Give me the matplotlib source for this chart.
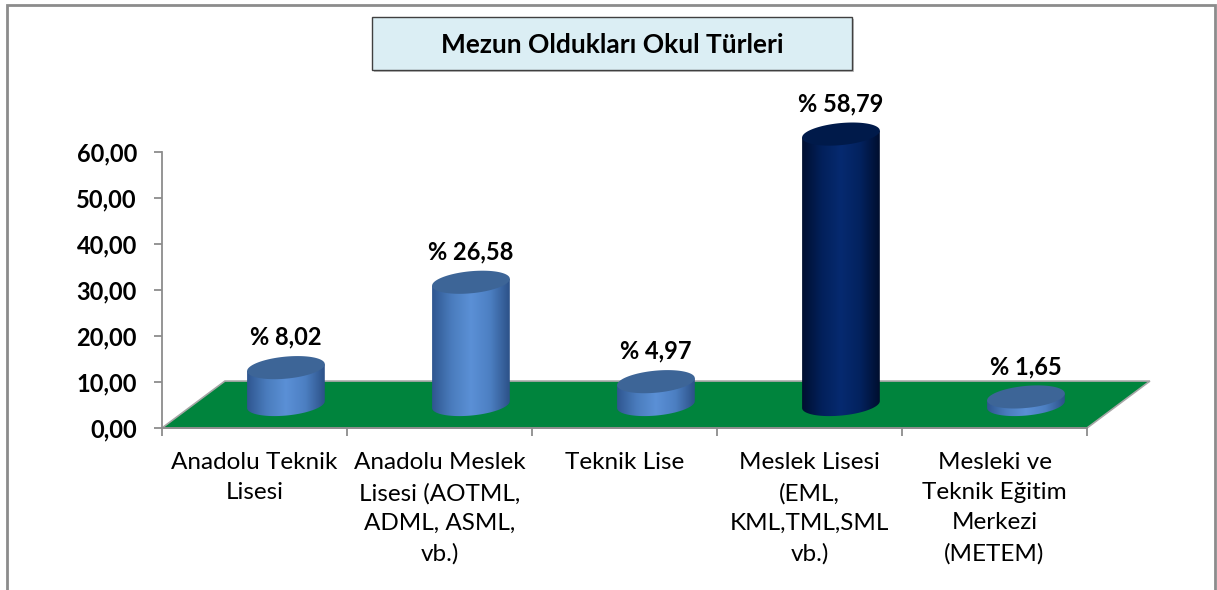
import numpy as np
import matplotlib.pyplot as plt
from matplotlib.patches import Polygon, Rectangle, PathPatch
from matplotlib.path import Path
from matplotlib.colors import LinearSegmentedColormap
from matplotlib.ticker import FuncFormatter

categories = ['Anadolu Teknik\nLisesi',
              'Anadolu Meslek\nLisesi (AOTML,\nADML, ASML,\nvb.)',
              'Teknik Lise',
              'Meslek Lisesi\n(EML,\nKML,TML,SML\nvb.)',
              'Mesleki ve\nTeknik Eğitim\nMerkezi\n(METEM)']
values = [8.02, 26.58, 4.97, 58.79, 1.65]
highlight = [False, False, False, True, False]
yticks = [0, 10, 20, 30, 40, 50, 60]
title = 'Mezun Oldukları Okul Türleri'

plt.rcParams['font.family'] = ['Lato', 'DejaVu Sans']

# colours for normal / highlighted cylinders
blue_side = LinearSegmentedColormap.from_list('b', ['#2F5690', '#4A7CBD', '#5B90D6', '#4C7FC2', '#2C5188'])
navy_side = LinearSegmentedColormap.from_list('n', ['#000F30', '#02205A', '#062A70', '#03225E', '#000E2E'])
blue_top = '#3D6597'
navy_top = '#001A4A'

fig = plt.figure(figsize=(12.17, 5.90), dpi=100)
ax = fig.add_axes([0.1331, 0.259, 0.8209, 0.5614])

depth_x, depth_y = 0.34, 10.2
cyl_w, cyl_h, shear = 0.42, 4.8, 0.75

# green floor
floor = Polygon([(-0.5, 0), (4.5, 0), (4.5 + depth_x, depth_y), (-0.5 + depth_x, depth_y)],
                closed=True, facecolor='#00843D', edgecolor='#A6A6A6', lw=1.2, zorder=1)
ax.add_patch(floor)

grad = np.linspace(0, 1, 256).reshape(1, -1)
t_low = np.linspace(np.pi, 2 * np.pi, 60)
t_all = np.linspace(0, 2 * np.pi, 120)

for i, v in enumerate(values):
    cx = i + depth_x / 2
    base = depth_y / 2
    top = base + v
    xl, xr = cx - cyl_w / 2, cx + cyl_w / 2
    # body outline: left side, lower half ellipse, right side
    pts = [(xl, top - shear), (xl, base - shear)]
    pts += list(zip(cx + cyl_w / 2 * np.cos(t_low), base + cyl_h / 2 * np.sin(t_low) + shear * np.cos(t_low)))
    pts += [(xr, base + shear), (xr, top + shear), (xl, top - shear)]
    body = PathPatch(Path(pts), facecolor='none', edgecolor='none')
    ax.add_patch(body)
    cmap = navy_side if highlight[i] else blue_side
    img = ax.imshow(grad, cmap=cmap, aspect='auto', extent=(xl, xr, base - cyl_h, top + cyl_h),
                    zorder=2, interpolation='bilinear')
    img.set_clip_path(body)
    cap = Polygon(list(zip(cx + cyl_w / 2 * np.cos(t_all),
                           top + cyl_h / 2 * np.sin(t_all) + shear * np.cos(t_all))),
                  closed=True, facecolor=navy_top if highlight[i] else blue_top,
                  edgecolor='none', zorder=3)
    ax.add_patch(cap)
    ax.annotate('% ' + f'{v:.2f}'.replace('.', ','), xy=(cx, top + cyl_h / 2),
                xytext=(0, 8.5), textcoords='offset points', ha='center', va='baseline',
                fontsize=17, fontweight='bold', color='black')

ax.set_xlim(-0.5, 4.9)
ax.set_ylim(-2, 70)

for s in ['top', 'right']:
    ax.spines[s].set_visible(False)
ax.spines['left'].set_bounds(0, 60)
ax.spines['left'].set_color('#8C8C8C')
ax.spines['left'].set_linewidth(1.3)
ax.spines['bottom'].set_position(('data', 0))
ax.spines['bottom'].set_bounds(-0.5, 4.5)
ax.spines['bottom'].set_color('#8C8C8C')
ax.spines['bottom'].set_linewidth(1.3)
ax.set_facecolor('none')

ax.set_yticks(yticks)
ax.yaxis.set_major_formatter(FuncFormatter(lambda v, p: f'{v:.2f}'.replace('.', ',')))
ax.tick_params(axis='y', length=6, width=1.3, color='#8C8C8C', pad=12, labelsize=17)
for lab in ax.get_yticklabels():
    lab.set_fontweight('bold')

ax.set_xticks(np.arange(-0.5, 5, 1.0))
ax.set_xticklabels([])
ax.set_xticks(range(len(categories)), minor=True)
ax.set_xticklabels(categories, minor=True, fontsize=17.5, linespacing=1.53)
ax.tick_params(axis='x', which='major', length=6, width=1.3, color='#8C8C8C')
ax.tick_params(axis='x', which='minor', length=0, pad=17.5)

# title box
fig.patches.append(Rectangle((374 / 1217, 1 - 72 / 590), 480 / 1217, 53 / 590,
                             transform=fig.transFigure, facecolor='#BFBFBF', edgecolor='none', zorder=0))
fig.patches.append(Rectangle((372 / 1217, 1 - 70 / 590), 480 / 1217, 53 / 590,
                             transform=fig.transFigure, facecolor='#DBEEF4', edgecolor='#404040', lw=1.0, zorder=1))
fig.text(612 / 1217, 1 - 45 / 590, title, ha='center', va='center', fontsize=19, fontweight='bold')

# outer chart border
fig.patches.append(Rectangle((7 / 1217, -0.1), 1208 / 1217, 1.1 - 5 / 590, transform=fig.transFigure,
                             fill=False, edgecolor='#8C8C8C', lw=2))

fig.savefig('out.png', dpi=100)
